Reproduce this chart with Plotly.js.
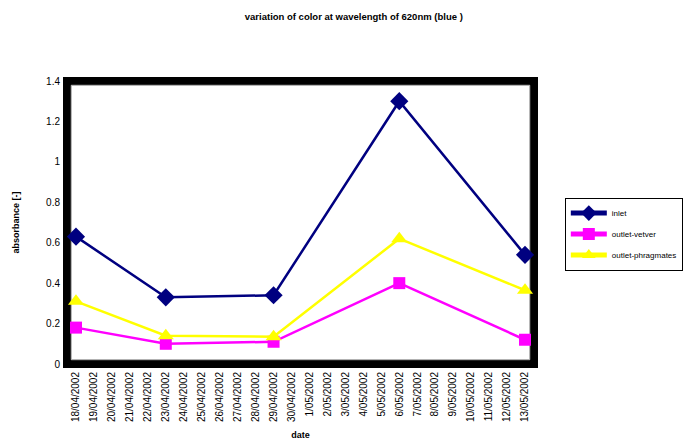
<!DOCTYPE html>
<html>
<head>
<meta charset="utf-8">
<script src="https://cdn.plot.ly/plotly-3.0.1.min.js"></script>
<style>html,body{margin:0;padding:0;background:#fff;}#chart{width:691px;height:443px;}</style>
</head>
<body>
<div id="chart"></div>
<script>
var allDates = ["18/04/2002","19/04/2002","20/04/2002","21/04/2002","22/04/2002","23/04/2002","24/04/2002","25/04/2002","26/04/2002","27/04/2002","28/04/2002","29/04/2002","30/04/2002","1/05/2002","2/05/2002","3/05/2002","4/05/2002","5/05/2002","6/05/2002","7/05/2002","8/05/2002","9/05/2002","10/05/2002","11/05/2002","12/05/2002","13/05/2002"];
var sampleDates = ["18/04/2002","23/04/2002","29/04/2002","6/05/2002","13/05/2002"];
var inlet = [0.63, 0.33, 0.34, 1.30, 0.54];
var outletVetver = [0.18, 0.10, 0.11, 0.40, 0.12];
var outletPhragmates = [0.31, 0.14, 0.135, 0.62, 0.365];

var font = "Liberation Sans, Arial, sans-serif";
var traces = [
  {x: sampleDates, y: inlet, name: "inlet", legendgroup: "a", type: "scatter", mode: "lines+markers",
   line: {color: "#000080", width: 2.5}, marker: {symbol: "diamond", size: 14, color: "#000080"}},
  {x: sampleDates, y: outletVetver, name: "outlet-vetver", legendgroup: "b", type: "scatter", mode: "lines+markers",
   line: {color: "#FF00FF", width: 2.5}, marker: {symbol: "square", size: 12, color: "#FF00FF"}},
  {x: sampleDates, y: outletPhragmates, name: "outlet-phragmates", legendgroup: "c", type: "scatter", mode: "lines+markers",
   line: {color: "#FFFF00", width: 2.5}, marker: {symbol: "triangle-up", size: 14, color: "#FFFF00"}}
];
var layout = {
  width: 691, height: 443,
  margin: {l: 67, r: 157, t: 81, b: 79, autoexpand: false},
  paper_bgcolor: "#fff", plot_bgcolor: "#fff",
  font: {family: font, size: 10, color: "#000"},
  title: {text: "<b>variation of color at wavelength of 620nm (blue )</b>", x: 0.512, xanchor: "center", y: 0.962, yanchor: "middle",
          font: {family: font, size: 9.5, color: "#000"}},
  xaxis: {type: "category", categoryorder: "array", categoryarray: allDates, tickvals: allDates,
          range: [-0.5, 25.5], tickangle: -90, showgrid: false, zeroline: false, showline: false,
          ticks: "", ticklen: 0, ticklabelstandoff: 5, tickfont: {family: font, size: 10, color: "#000"},
          title: {text: "<b>date</b>", standoff: 10, font: {family: font, size: 9, color: "#000"}}},
  yaxis: {range: [0, 1.4], dtick: 0.2, tick0: 0, showgrid: false, zeroline: false, showline: false,
          ticks: "", tickfont: {family: font, size: 10, color: "#000"}, ticklabelstandoff: 6,
          title: {text: "<b>absorbance [-]</b>", standoff: 24, font: {family: font, size: 9, color: "#000"}}},
  shapes: [
    {type: "rect", xref: "paper", yref: "paper", x0: 0, x1: 1, y0: 0, y1: 1, layer: "below",
     line: {color: "#000", width: 8}},
    {type: "rect", xref: "paper", yref: "paper", x0: 0.009, x1: 0.991, y0: 0.015, y1: 0.985, layer: "below",
     line: {color: "#999", width: 1}}
  ],
  showlegend: true,
  legend: {x: 1.066, xanchor: "left", y: 0.588, yanchor: "top", bordercolor: "#000", borderwidth: 1,
           bgcolor: "#fff", font: {family: font, size: 8, color: "#000"}, tracegroupgap: 2, traceorder: "grouped",
           itemwidth: 36, itemsizing: "constant"}
};
Plotly.newPlot("chart", traces, layout, {displayModeBar: false, staticPlot: true});
</script>
</body>
</html>
